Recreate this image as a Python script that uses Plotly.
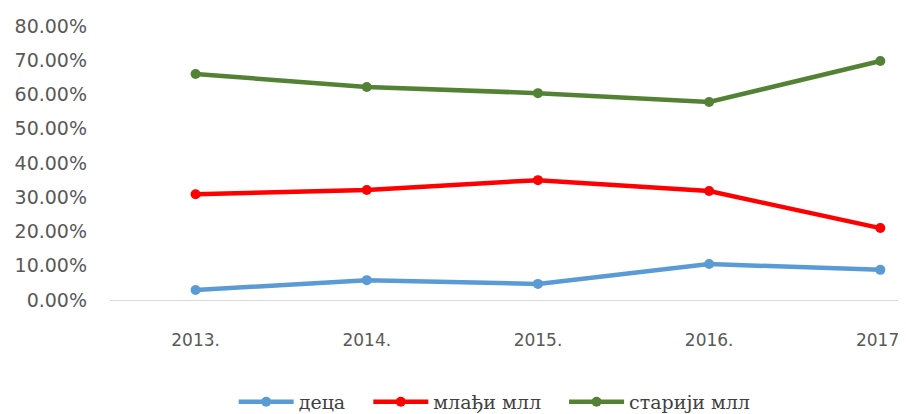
import plotly.graph_objects as go

years = ["2013.", "2014.", "2015.", "2016.", "2017."]
deca = [0.029, 0.058, 0.047, 0.105, 0.088]
mladji = [0.309, 0.321, 0.350, 0.318, 0.210]
stariji = [0.660, 0.622, 0.604, 0.578, 0.698]
y_ticks = [0, 0.1, 0.2, 0.3, 0.4, 0.5, 0.6, 0.7, 0.8]

series = [
    ("деца", deca, "#5B9BD5"),
    ("млађи млл", mladji, "#FF0000"),
    ("старији млл", stariji, "#548235"),
]

fig = go.Figure()
for name, vals, col in series:
    fig.add_trace(go.Scatter(
        x=years, y=vals, name=name + "\u00a0\u00a0\u00a0", mode="lines+markers",
        line=dict(color=col, width=4.5),
        marker=dict(color=col, size=10),
    ))

# page body has an 8px margin; figure sized/placed to compensate
fig.update_layout(
    width=898, height=406,
    margin=dict(l=102, r=0, t=18, b=114, autoexpand=False),
    paper_bgcolor="white", plot_bgcolor="white",
    font=dict(family="DejaVu Sans", size=17, color="#595959"),
    showlegend=True,
    legend=dict(
        orientation="h", xref="container", yref="container",
        x=0.552, xanchor="center", y=0.03, yanchor="middle",
        font=dict(family="DejaVu Serif", size=19, color="#404040"),
        itemwidth=55, bgcolor="rgba(0,0,0,0)",
    ),
)
fig.update_xaxes(
    type="category", range=[-0.5, 4.15],
    showline=True, linecolor="#D9D9D9", linewidth=1,
    showgrid=False, zeroline=False,
    ticks="", ticklabelstandoff=25,
    tickfont=dict(family="DejaVu Sans", size=17, color="#595959"),
)
fig.update_yaxes(
    range=[0, 0.8], tickvals=y_ticks, tickformat=".2%",
    showgrid=False, zeroline=False, showline=False,
    ticks="", ticklabelstandoff=22,
    tickfont=dict(family="DejaVu Sans", size=19, color="#595959"),
)

fig.write_html("out.html")
